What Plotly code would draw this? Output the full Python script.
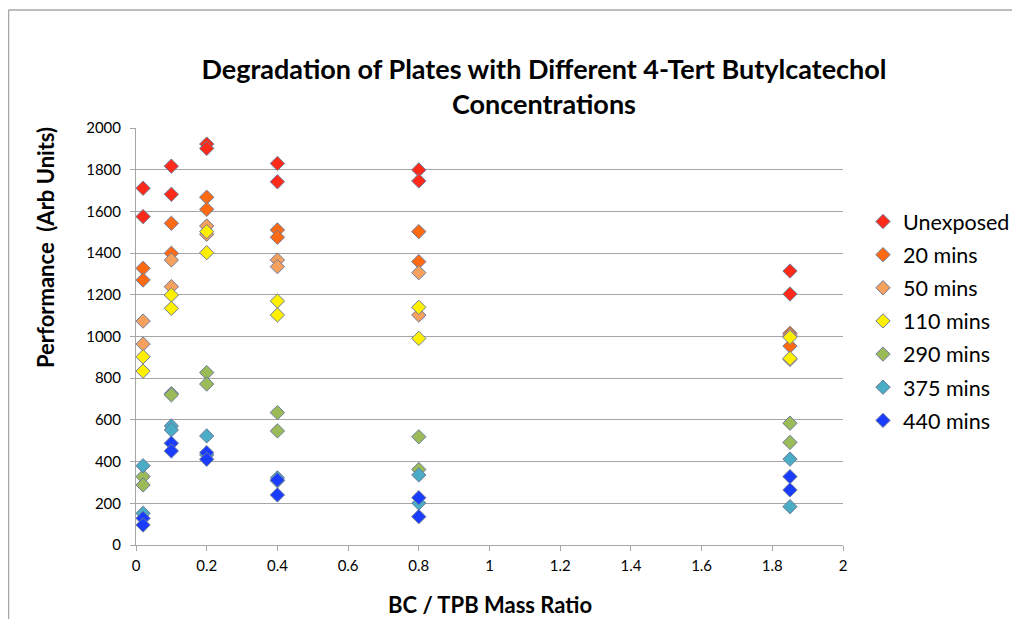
import plotly.graph_objects as go

ratios = [0.02, 0.02, 0.1, 0.1, 0.2, 0.2, 0.4, 0.4, 0.8, 0.8, 1.85, 1.85]

unexposed = [1711, 1575, 1817, 1682, 1923, 1902, 1830, 1742, 1799, 1746, 1314, 1204]
m20 = [1327, 1271, 1543, 1399, 1668, 1610, 1511, 1476, 1503, 1359, 1015, 954]
m50 = [1074, 964, 1367, 1239, 1530, 1490, 1367, 1335, 1306, 1103, 1005, 890]
m110 = [903, 834, 1199, 1135, 1503, 1402, 1170, 1103, 1140, 991, 996, 895]
m290 = [328, 288, 726, 720, 827, 772, 635, 547, 519, 362, 584, 492]
m375 = [380, 152, 571, 552, 523, 432, 322, 308, 336, 201, 412, 184]
m440 = [128, 96, 488, 451, 443, 411, 312, 240, 227, 136, 328, 264]

series_names = ["Unexposed", "20 mins", "50 mins", "110 mins", "290 mins", "375 mins", "440 mins"]
series_values = [unexposed, m20, m50, m110, m290, m375, m440]
series_colors = ["#FF2A1A", "#FF6A12", "#F7A15E", "#FFF000", "#9BBB59", "#4BACC6", "#1A3CFF"]

y_ticks = list(range(0, 2001, 200))
x_ticks = [0, 0.2, 0.4, 0.6, 0.8, 1, 1.2, 1.4, 1.6, 1.8, 2]
x_tick_labels = ["0", "0.2", "0.4", "0.6", "0.8", "1", "1.2", "1.4", "1.6", "1.8", "2"]

fig = go.Figure()
for i, (name, vals, col) in enumerate(zip(series_names, series_values, series_colors)):
    fig.add_trace(go.Scatter(
        x=ratios, y=vals, mode="markers", name=name, legendgroup=f"g{i}",
        marker=dict(symbol="diamond", size=11, color=col,
                    line=dict(color="#6E7B9A", width=1)),
    ))

FONT = "Lato, 'Open Sans', sans-serif"
OFF = 8  # page body margin
W, H = 1012, 611
L, R, T, B = 136 - OFF, 843 - OFF, 128 - OFF, 545 - OFF
pw, ph = R - L, B - T


def px_x(p):
    return (p - L) / pw


def px_y(p):
    return (B - p) / ph


fig.update_layout(
    width=W, height=H,
    margin=dict(l=L, r=W - R, t=T, b=H - B, autoexpand=False),
    paper_bgcolor="white", plot_bgcolor="white",
    font=dict(family=FONT, size=15, color="black"),
    title=dict(
        text="<b>Degradation of Plates with Different 4-Tert Butylcatechol<br>Concentrations</b>",
        x=(544 - OFF) / W, xanchor="center", y=1 - (78.5 - OFF) / H, yanchor="middle",
        font=dict(family=FONT, size=27, color="black"),
    ),
    xaxis=dict(
        range=[0, 2], tickvals=x_ticks, ticktext=x_tick_labels,
        showgrid=False, zeroline=False, showline=True, linecolor="#A6A6A6", linewidth=1,
        ticks="outside", ticklen=5, tickcolor="#A6A6A6", ticklabelstandoff=2,
        tickfont=dict(size=15), fixedrange=True,
    ),
    yaxis=dict(
        range=[0, 2000], tickvals=y_ticks,
        showgrid=True, gridcolor="#A6A6A6", gridwidth=1,
        zeroline=False, showline=True, linecolor="#A6A6A6", linewidth=1,
        ticks="outside", ticklen=5, tickcolor="#A6A6A6", ticklabelstandoff=6,
        tickfont=dict(size=15), fixedrange=True,
    ),
    legend=dict(
        x=px_x(855), y=px_y(193), xanchor="left", yanchor="top",
        font=dict(size=21.5), tracegroupgap=2.2, traceorder="grouped",
        bgcolor="rgba(0,0,0,0)", itemwidth=30,
    ),
    showlegend=True,
)

# axis titles
fig.add_annotation(text="<b>Performance  (Arb Units)</b>", xref="paper", yref="paper",
                   x=px_x(45 - OFF), y=px_y(248 - OFF), textangle=-90,
                   showarrow=False, xanchor="center", yanchor="middle",
                   font=dict(family=FONT, size=22, color="black"))
fig.add_annotation(text="<b>BC / TPB Mass Ratio</b>", xref="paper", yref="paper",
                   x=px_x(490 - OFF), y=px_y(604 - OFF),
                   showarrow=False, xanchor="center", yanchor="middle",
                   font=dict(family=FONT, size=22, color="black"))

# outer chart border (top and left visible edges)
fig.add_shape(type="line", xref="paper", yref="paper",
              x0=px_x(0.5), x1=px_x(W + 5), y0=px_y(10 - OFF), y1=px_y(10 - OFF),
              line=dict(color="#A6A6A6", width=1.5))
fig.add_shape(type="line", xref="paper", yref="paper",
              x0=px_x(0.5), x1=px_x(0.5), y0=px_y(10 - OFF), y1=px_y(H + 5),
              line=dict(color="#A6A6A6", width=1.5))

fig.write_html("out.html")
